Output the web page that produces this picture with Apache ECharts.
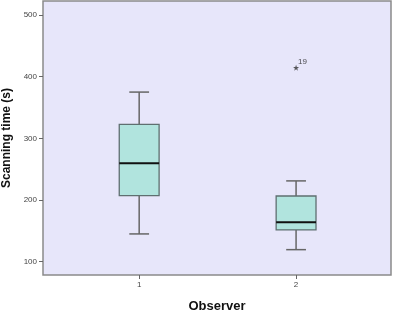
<!DOCTYPE html>
<html>
<head>
<meta charset="utf-8">
<script src="https://cdn.jsdelivr.net/npm/echarts@6/dist/echarts.min.js"></script>
<style>
  html, body { margin: 0; padding: 0; background: #fff; }
  #chart { width: 394px; height: 311px; }
</style>
</head>
<body>
<div id="chart"></div>
<script>
// observers on the x axis
const observers = [1, 2]
// five-number summaries [min, Q1, median, Q3, max]
const boxStats = [
  [145, 207, 259.5, 322.5, 375],
  [119.5, 151.5, 164, 206.5, 231],
]
// outliers: [observer, value, case id]
const outliers = [[2, 414.5, '19']]
const yTicks = [100, 200, 300, 400, 500]

const chart = echarts.init(document.getElementById('chart'))

const boxData = observers.map((o, i) => [o].concat(boxStats[i]))

chart.setOption({
  animation: false,
  grid: {
    left: 43,
    right: 3,
    top: 1,
    bottom: 36,
    outerBoundsMode: 'none',
    containLabel: false,
    show: true,
    backgroundColor: '#e7e6fa',
    borderColor: '#8a8a8a',
    borderWidth: 1.5,
  },
  xAxis: {
    type: 'value',
    min: 0.387,
    max: 2.605,
    name: 'Observer',
    nameLocation: 'middle',
    nameGap: 25,
    nameTextStyle: { fontFamily: 'Liberation Sans', fontWeight: 'bold', fontSize: 13, color: '#111' },
    splitLine: { show: false },
    axisLine: { show: false },
    axisTick: { show: true, customValues: observers, length: 4, lineStyle: { color: '#666' } },
    axisLabel: { customValues: observers, fontSize: 8, color: '#444', margin: 6, fontFamily: 'Liberation Sans' },
  },
  yAxis: {
    type: 'value',
    min: 78.4,
    max: 522.7,
    name: 'Scanning time (s)',
    nameLocation: 'middle',
    nameGap: 29,
    nameTextStyle: { fontFamily: 'Liberation Sans', fontWeight: 'bold', fontSize: 12, color: '#111' },
    splitLine: { show: false },
    axisLine: { show: false },
    axisTick: { show: true, customValues: yTicks, length: 4, lineStyle: { color: '#666' } },
    axisLabel: { customValues: yTicks, fontSize: 8, color: '#444', margin: 6, fontFamily: 'Liberation Sans' },
  },
  series: [
    {
      type: 'custom',
      data: boxData,
      encode: { x: 0, y: [1, 2, 3, 4, 5] },
      renderItem: (params, api) => {
        const x = api.value(0)
        const halfBox = 0.127
        const halfCap = 0.063
        const pMin = api.coord([x, api.value(1)])
        const pQ1 = api.coord([x, api.value(2)])
        const pMed = api.coord([x, api.value(3)])
        const pQ3 = api.coord([x, api.value(4)])
        const pMax = api.coord([x, api.value(5)])
        const bl = api.coord([x - halfBox, api.value(2)])[0]
        const br = api.coord([x + halfBox, api.value(2)])[0]
        const cl = api.coord([x - halfCap, api.value(1)])[0]
        const cr = api.coord([x + halfCap, api.value(1)])[0]
        const whisker = { stroke: '#666', lineWidth: 1.5 }
        return {
          type: 'group',
          children: [
            { type: 'line', shape: { x1: pMax[0], y1: pMax[1], x2: pQ3[0], y2: pQ3[1] }, style: whisker },
            { type: 'line', shape: { x1: pQ1[0], y1: pQ1[1], x2: pMin[0], y2: pMin[1] }, style: whisker },
            { type: 'line', shape: { x1: cl, y1: pMax[1], x2: cr, y2: pMax[1] }, style: whisker },
            { type: 'line', shape: { x1: cl, y1: pMin[1], x2: cr, y2: pMin[1] }, style: whisker },
            {
              type: 'rect',
              shape: { x: bl, y: pQ3[1], width: br - bl, height: pQ1[1] - pQ3[1] },
              style: { fill: '#b1e4de', stroke: '#5f6f70', lineWidth: 1.3 },
            },
            { type: 'line', shape: { x1: bl, y1: pMed[1], x2: br, y2: pMed[1] }, style: { stroke: '#111', lineWidth: 2 } },
          ],
        }
      },
    },
    {
      type: 'scatter',
      data: outliers,
      symbol: 'path://M0,-10 L2.35,-3.24 L9.51,-3.09 L3.8,1.24 L5.88,8.09 L0,4 L-5.88,8.09 L-3.8,1.24 L-9.51,-3.09 L-2.35,-3.24 Z',
      symbolSize: 6,
      itemStyle: { color: '#333' },
      label: {
        show: true,
        formatter: (p) => p.value[2],
        position: [5, -7],
        fontSize: 8,
        color: '#222',
        fontFamily: 'Liberation Sans',
      },
    },
  ],
})
</script>
</body>
</html>
